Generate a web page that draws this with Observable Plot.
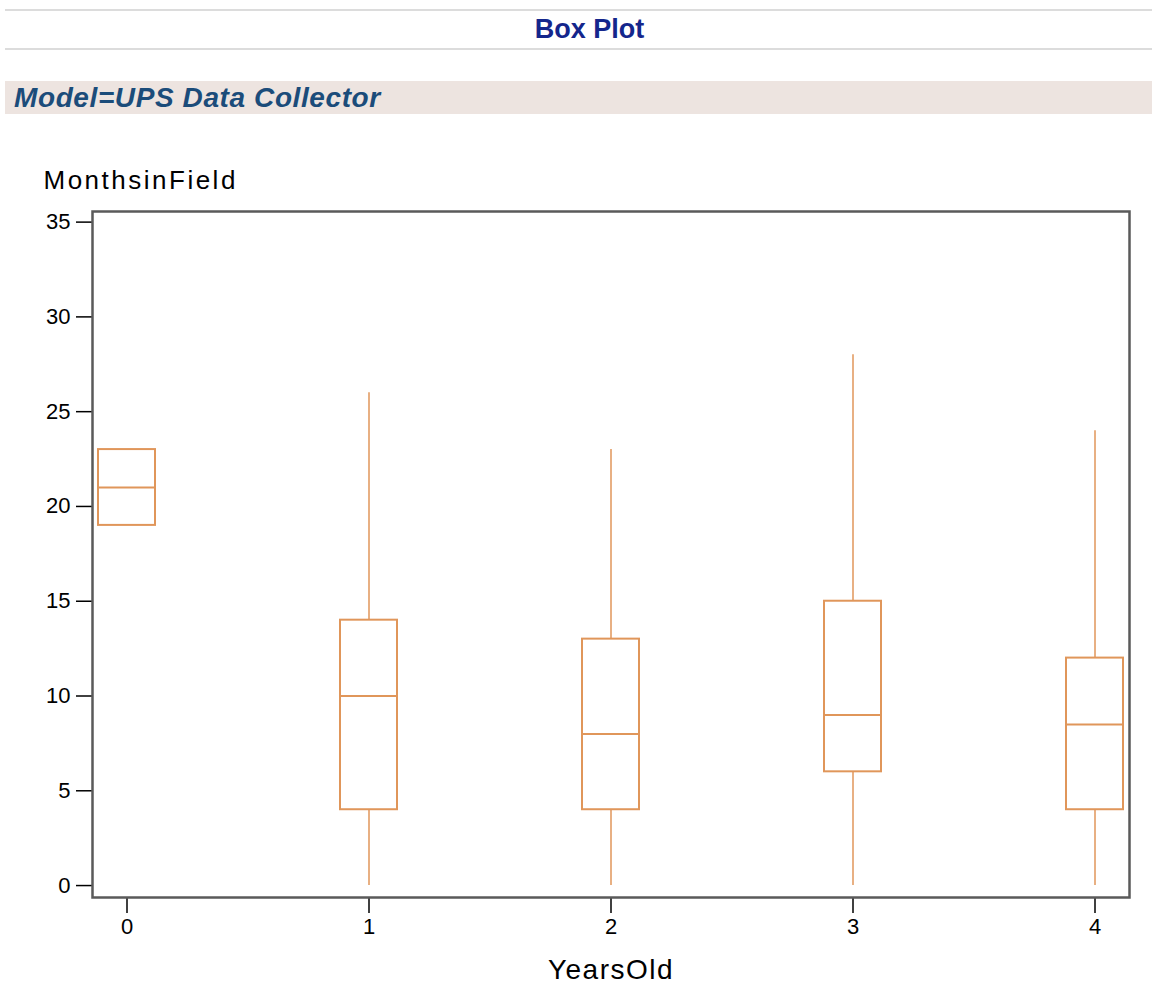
<!DOCTYPE html>
<html>
<head>
<meta charset="utf-8">
<script src="https://cdn.jsdelivr.net/npm/d3@7"></script>
<script src="https://cdn.jsdelivr.net/npm/@observablehq/plot@0.6"></script>
<style>
  html, body { margin: 0; padding: 0; background: #fff; }
  body { width: 1152px; height: 984px; position: relative; overflow: hidden; font-family: "Liberation Sans", Arial, sans-serif; }
  #title {
    position: absolute; left: 5px; right: 0; top: 9px; height: 37px;
    border-top: 2px solid #dcdcdc; border-bottom: 2px solid #dcdcdc;
    text-align: center; line-height: 37px;
    font-size: 27px; font-weight: bold; color: #14268c; padding-left: 22px; box-sizing: content-box;
  }
  #band {
    position: absolute; left: 5px; right: 0; top: 81px; height: 33px;
    background: #ede4e0; line-height: 34px;
    font-size: 28px; font-weight: bold; font-style: italic; color: #1b4c7a; padding-left: 9px; letter-spacing: 0.6px;
  }
  #chart { position: absolute; left: 0; top: 150px; }
</style>
</head>
<body>
<div id="title">Box Plot</div>
<div id="band">Model=UPS Data Collector</div>
<div id="chart"></div>
<script>
const years = [0, 1, 2, 3, 4];
const whiskerLow = [19, 0, 0, 0, 0];
const q1 = [19, 4, 4, 6, 4];
const median = [21, 10, 8, 9, 8.5];
const q3 = [23, 14, 13, 15, 12];
const whiskerHigh = [23, 26, 23, 28, 24];
const yTicks = [0, 5, 10, 15, 20, 25, 30, 35];

const data = years.map((y, i) => ({
  year: y, lo: whiskerLow[i], q1: q1[i], med: median[i], q3: q3[i], hi: whiskerHigh[i]
}));

const orange = "#e0965a";

const plot = Plot.plot({
  width: 1152,
  height: 834,
  marginLeft: 92,
  marginRight: 23,
  marginTop: 61,
  marginBottom: 87,
  style: { fontFamily: "'Liberation Sans', Arial, sans-serif", fontSize: "22px", color: "#000", background: "#fff" },
  x: { type: "band", domain: years, paddingInner: 0.765, paddingOuter: 0.0225, align: 0.5, label: null },
  y: { domain: [-0.63, 35.56], label: null },
  marks: [
    Plot.axisY({ ticks: yTicks, tickSize: 16, tickPadding: 6, tickFormat: d => String(d), stroke: "#000", strokeWidth: 1.5, fontSize: 22, label: null }),
    Plot.axisX({ tickSize: 16, tickPadding: 5, stroke: "#000", strokeWidth: 1.5, fontSize: 22, label: null }),
    Plot.ruleX(data, { x: "year", y1: "lo", y2: "q1", stroke: orange, strokeWidth: 1.5 }),
    Plot.ruleX(data, { x: "year", y1: "q3", y2: "hi", stroke: orange, strokeWidth: 1.5 }),
    Plot.barY(data, { x: "year", y1: "q1", y2: "q3", fill: "none", stroke: orange, strokeWidth: 2 }),
    Plot.tickY(data, { x: "year", y: "med", stroke: orange, strokeWidth: 2 }),
    Plot.frame({ stroke: "#5a5a5a", strokeWidth: 2.5 }),
    Plot.text(["MonthsinField"], { frameAnchor: "top-left", dx: -49, dy: -31, textAnchor: "start", lineAnchor: "middle", fontSize: 26, fill: "#000" }),
    Plot.text(["YearsOld"], { frameAnchor: "bottom", dy: 73, textAnchor: "middle", lineAnchor: "middle", fontSize: 28, fill: "#000" })
  ]
});
plot.querySelectorAll("text").forEach(t => {
  if (t.textContent === "MonthsinField") t.setAttribute("letter-spacing", "2.5");
  if (t.textContent === "YearsOld") t.setAttribute("letter-spacing", "1.5");
});
document.getElementById("chart").appendChild(plot);
</script>
</body>
</html>
